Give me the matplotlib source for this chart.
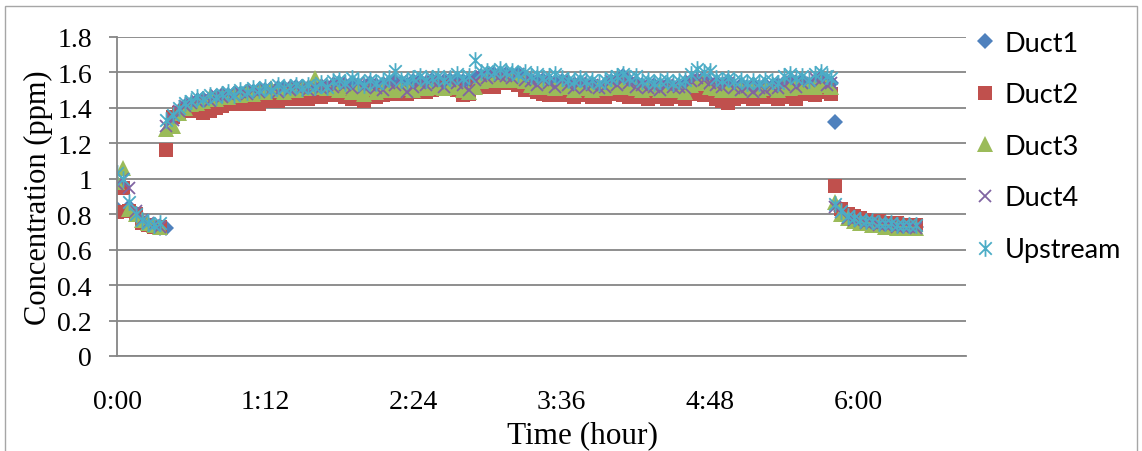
import matplotlib
matplotlib.use("Agg")
import matplotlib.pyplot as plt
from matplotlib.path import Path
from matplotlib.patches import Rectangle
from matplotlib.ticker import FuncFormatter

# sample time in minutes (one reading every 3 min)
minutes = [0, 3, 6, 9, 12, 15, 18, 21, 24,
           27, 30, 33, 36, 39, 42, 45, 48, 51, 54, 57, 60, 63, 66, 69, 72,
           75, 78, 81, 84, 87, 90, 93, 96, 99, 102,
           105, 108, 111, 114, 117, 120, 123, 126, 129, 132, 135, 138, 141, 144,
           147, 150, 153, 156, 159, 162, 165, 168, 171, 174, 177, 180, 183, 186,
           189, 192, 195, 198, 201, 204, 207, 210, 213, 216, 219, 222, 225, 228,
           231, 234, 237, 240, 243, 246, 249, 252, 255, 258, 261, 264, 267, 270,
           273, 276, 279, 282, 285, 288, 291, 294, 297, 300, 303, 306, 309, 312,
           315, 318, 321, 324, 327, 330, 333, 336, 339, 342, 345, 347,
           349, 352, 355, 358, 361, 364, 367, 370, 373, 376, 379, 382, 385, 388]

duct1 = [0.83, 0.96, 0.84, 0.80, 0.76, 0.74, 0.73, 0.72, 0.72,
         1.33, 1.38, 1.41, 1.42, 1.44, 1.45, 1.45, 1.46, 1.47, 1.47, 1.48, 1.48, 1.49,
         1.49, 1.50, 1.50, 1.50, 1.51, 1.51, 1.51, 1.52, 1.52, 1.51, 1.52, 1.52, 1.52,
         1.53, 1.54, 1.53, 1.54, 1.53, 1.52, 1.54, 1.53, 1.53, 1.54, 1.55, 1.54, 1.53, 1.55,
         1.55, 1.54, 1.56, 1.55, 1.55, 1.56, 1.56, 1.55, 1.55, 1.57, 1.58, 1.58, 1.59, 1.59,
         1.59, 1.58, 1.59, 1.57, 1.56, 1.55, 1.56, 1.55, 1.54, 1.55, 1.54, 1.53, 1.54, 1.53,
         1.53, 1.52, 1.53, 1.55, 1.56, 1.58, 1.55, 1.54, 1.53, 1.52, 1.53, 1.52, 1.53, 1.52,
         1.52, 1.53, 1.55, 1.56, 1.55, 1.54, 1.54, 1.53, 1.55, 1.52, 1.53, 1.52, 1.53, 1.52,
         1.53, 1.52, 1.53, 1.54, 1.55, 1.54, 1.55, 1.53, 1.55, 1.57, 1.55, 1.54,
         1.32, 0.82, 0.79, 0.78, 0.77, 0.76, 0.76, 0.75, 0.75, 0.74, 0.74, 0.74, 0.73, 0.73]

duct2 = [0.81, 0.95, 0.82, 0.80, 0.75, 0.74, 0.73, 0.73, 1.16,
         1.35, 1.37, 1.38, 1.38, 1.38, 1.37, 1.38, 1.40, 1.41, 1.42, 1.42, 1.42, 1.42,
         1.43, 1.42, 1.44, 1.45, 1.44, 1.45, 1.46, 1.45, 1.46, 1.45, 1.47, 1.46, 1.47,
         1.47, 1.47, 1.46, 1.45, 1.45, 1.44, 1.46, 1.46, 1.47, 1.48, 1.48, 1.49, 1.48, 1.49,
         1.49, 1.49, 1.50, 1.51, 1.51, 1.52, 1.50, 1.47, 1.48, 1.53, 1.52, 1.53, 1.52, 1.55,
         1.54, 1.55, 1.53, 1.50, 1.51, 1.49, 1.48, 1.47, 1.47, 1.48, 1.47, 1.46, 1.48, 1.47,
         1.46, 1.47, 1.46, 1.49, 1.48, 1.47, 1.46, 1.47, 1.46, 1.45, 1.46, 1.47, 1.45, 1.46,
         1.46, 1.45, 1.48, 1.49, 1.47, 1.48, 1.45, 1.44, 1.43, 1.45, 1.46, 1.47, 1.45, 1.46,
         1.47, 1.46, 1.45, 1.46, 1.47, 1.45, 1.49, 1.48, 1.47, 1.49, 1.50, 1.48,
         0.96, 0.83, 0.80, 0.79, 0.78, 0.77, 0.76, 0.76, 0.75, 0.75, 0.75, 0.74, 0.74, 0.74]

duct3 = [0.98, 1.06, 0.83, 0.80, 0.77, 0.75, 0.74, 0.73, 1.28,
         1.30, 1.37, 1.40, 1.42, 1.43, 1.44, 1.46, 1.45, 1.47, 1.46, 1.48, 1.47, 1.49,
         1.48, 1.50, 1.49, 1.51, 1.50, 1.49, 1.51, 1.50, 1.52, 1.51, 1.57, 1.52, 1.51,
         1.51, 1.50, 1.52, 1.49, 1.50, 1.48, 1.51, 1.49, 1.50, 1.51, 1.50, 1.52, 1.51, 1.50,
         1.52, 1.51, 1.53, 1.52, 1.51, 1.53, 1.52, 1.50, 1.49, 1.52, 1.55, 1.56, 1.57, 1.56,
         1.57, 1.56, 1.57, 1.55, 1.53, 1.52, 1.54, 1.52, 1.51, 1.53, 1.52, 1.50, 1.52, 1.51,
         1.50, 1.52, 1.51, 1.53, 1.52, 1.54, 1.52, 1.51, 1.50, 1.52, 1.51, 1.50, 1.51, 1.50,
         1.50, 1.49, 1.53, 1.54, 1.55, 1.52, 1.51, 1.50, 1.52, 1.50, 1.51, 1.50, 1.51, 1.50,
         1.52, 1.51, 1.50, 1.52, 1.51, 1.53, 1.52, 1.53, 1.52, 1.54, 1.53, 1.52,
         0.87, 0.80, 0.78, 0.76, 0.75, 0.75, 0.74, 0.74, 0.73, 0.73, 0.72, 0.72, 0.72, 0.72]

duct4 = [0.97, 1.00, 0.95, 0.82, 0.77, 0.75, 0.74, 0.73, 1.30,
         1.33, 1.38, 1.41, 1.43, 1.44, 1.45, 1.44, 1.47, 1.46, 1.48, 1.47, 1.49, 1.48,
         1.50, 1.49, 1.51, 1.50, 1.49, 1.51, 1.50, 1.52, 1.51, 1.50, 1.52, 1.51, 1.53,
         1.52, 1.54, 1.53, 1.51, 1.54, 1.52, 1.53, 1.51, 1.50, 1.54, 1.53, 1.55, 1.49, 1.52,
         1.54, 1.53, 1.55, 1.54, 1.52, 1.55, 1.54, 1.53, 1.50, 1.56, 1.58, 1.57, 1.59, 1.58,
         1.58, 1.57, 1.59, 1.56, 1.55, 1.53, 1.56, 1.54, 1.52, 1.55, 1.53, 1.51, 1.54, 1.52,
         1.53, 1.51, 1.52, 1.55, 1.53, 1.56, 1.54, 1.52, 1.53, 1.51, 1.52, 1.50, 1.53, 1.52,
         1.52, 1.51, 1.55, 1.57, 1.56, 1.54, 1.53, 1.52, 1.54, 1.51, 1.50, 1.52, 1.49, 1.51,
         1.50, 1.52, 1.51, 1.53, 1.55, 1.52, 1.54, 1.55, 1.57, 1.56, 1.53, 1.54,
         0.84, 0.81, 0.78, 0.77, 0.76, 0.75, 0.75, 0.74, 0.74, 0.74, 0.73, 0.73, 0.73, 0.72]

upstream = [1.03, 1.00, 0.87, 0.80, 0.77, 0.75, 0.74, 0.75, 1.33,
            1.36, 1.40, 1.43, 1.44, 1.46, 1.45, 1.47, 1.46, 1.48, 1.49, 1.47, 1.50, 1.49,
            1.51, 1.50, 1.52, 1.50, 1.53, 1.51, 1.52, 1.53, 1.51, 1.53, 1.52, 1.54, 1.52,
            1.55, 1.56, 1.54, 1.57, 1.55, 1.53, 1.56, 1.54, 1.55, 1.57, 1.61, 1.56, 1.55, 1.57,
            1.58, 1.56, 1.57, 1.58, 1.56, 1.57, 1.59, 1.57, 1.58, 1.67, 1.60, 1.61, 1.60, 1.62,
            1.60, 1.61, 1.59, 1.60, 1.58, 1.59, 1.57, 1.58, 1.59, 1.57, 1.56, 1.55, 1.57, 1.55,
            1.56, 1.54, 1.56, 1.57, 1.58, 1.59, 1.57, 1.58, 1.55, 1.56, 1.54, 1.55, 1.56, 1.54,
            1.55, 1.56, 1.59, 1.62, 1.60, 1.61, 1.57, 1.56, 1.57, 1.55, 1.56, 1.54, 1.55, 1.54,
            1.56, 1.55, 1.54, 1.58, 1.59, 1.57, 1.58, 1.56, 1.59, 1.60, 1.58, 1.57,
            0.86, 0.82, 0.79, 0.78, 0.77, 0.76, 0.76, 0.75, 0.75, 0.75, 0.74, 0.74, 0.74, 0.74]

series_names = ["Duct1", "Duct2", "Duct3", "Duct4", "Upstream"]
x_ticks = [0, 72, 144, 216, 288, 360]
x_labels = ["0:00", "1:12", "2:24", "3:36", "4:48", "6:00"]
y_ticks = [0, 0.2, 0.4, 0.6, 0.8, 1, 1.2, 1.4, 1.6, 1.8]

# excel style "star" marker: an x with a vertical bar through it
star = Path([(0, -1), (0, 1), (-0.75, -0.75), (0.75, 0.75), (-0.75, 0.75), (0.75, -0.75)],
            [Path.MOVETO, Path.LINETO] * 3)

styles = [
    dict(marker="D", color="#4F81BD", ms=8.5, mew=0),
    dict(marker="s", color="#C0504D", ms=9.5, mew=0),
    dict(marker="^", color="#9BBB59", ms=11, mew=0),
    dict(marker="x", color="#8064A2", ms=9, mew=1.3),
    dict(marker=star, color="#4BACC6", ms=12, mew=1.3),
]

grey = "#868686"
serif = "Liberation Serif"

fig = plt.figure(figsize=(11.42, 4.52), dpi=100)
ax = fig.add_axes([117 / 1142, 1 - 357 / 452, 849 / 1142, 319 / 452])

handles = []
for name, vals, st in zip(series_names, [duct1, duct2, duct3, duct4, upstream], styles):
    h, = ax.plot(minutes, vals, linestyle="none", label=name, **st)
    handles.append(h)

ax.set_xlim(0, 412.5)
ax.set_ylim(0, 1.8)
ax.set_xticks(x_ticks)
ax.set_xticklabels(x_labels)
ax.set_yticks(y_ticks)
ax.yaxis.set_major_formatter(FuncFormatter(lambda v, p: f"{v:g}"))
ax.grid(axis="y", color=grey, lw=1.3)
ax.set_axisbelow(True)
for s in ["top", "right"]:
    ax.spines[s].set_visible(False)
for s in ["left", "bottom"]:
    ax.spines[s].set_color(grey)
    ax.spines[s].set_linewidth(1.3)
ax.tick_params(axis="y", length=6, width=1.3, color=grey, pad=12)
ax.tick_params(axis="x", length=0, pad=24)
for lab in ax.get_xticklabels() + ax.get_yticklabels():
    lab.set_fontfamily(serif)
    lab.set_fontsize(20)

fig.text(582 / 1142, 1 - 436 / 452, "Time (hour)", ha="center", va="center",
         family=serif, fontsize=22.5)
fig.text(38 / 1142, 1 - 198 / 452, "Concentration (ppm)", ha="center", va="center",
         rotation=90, family=serif, fontsize=22)

fig.legend(handles=handles, loc="upper left", bbox_to_anchor=(963 / 1142, 1 - 21 / 452),
           frameon=False, handlelength=0.8, handletextpad=0.35, labelspacing=0.98,
           prop={"family": "Lato", "size": 19.5}, borderaxespad=0)

fig.patches.append(Rectangle((5 / 1142, -0.05), 1132 / 1142, 1.05 - 7 / 452,
                             transform=fig.transFigure, fill=False, ec="#a6a6a6", lw=1))

fig.savefig("out.png", dpi=100)
